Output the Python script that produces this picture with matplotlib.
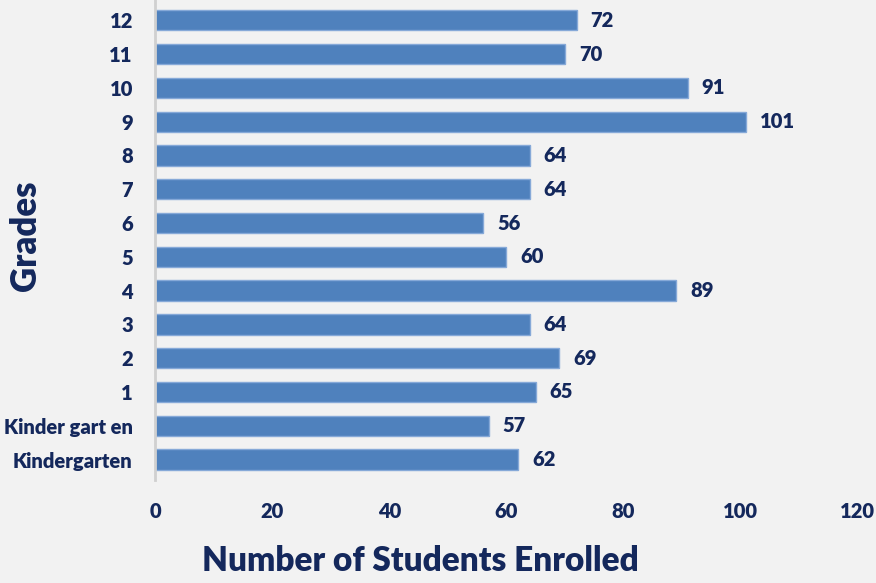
import matplotlib.pyplot as plt

grades = ["Kindergarten", "Kinder gart en", "1", "2", "3", "4", "5", "6",
          "7", "8", "9", "10", "11", "12"]
enrolled = [62, 57, 65, 69, 64, 89, 60, 56, 64, 64, 101, 91, 70, 72]
xticks = [0, 20, 40, 60, 80, 100, 120]

navy = "#14285c"
bg = "#f2f2f2"
plt.rcParams["font.family"] = ["Lato", "DejaVu Sans"]
plt.rcParams["font.weight"] = "heavy"

fig = plt.figure(figsize=(8.76, 5.83), dpi=100, facecolor=bg)
ax = fig.add_axes([0.177, 0.177, 0.802, 0.823], facecolor=bg)

pos = range(len(grades))
bars = ax.barh(pos, enrolled, height=0.6, color="#4f81bd",
               edgecolor="#86a9d8", linewidth=1)
for y, v in zip(pos, enrolled):
    ax.text(v + 2.4, y, str(v), va="center", ha="left",
            fontsize=14.5, fontweight="heavy", color=navy)

ax.set_xlim(0, 120)
ax.set_ylim(-0.6, len(grades) - 0.4)
ax.set_yticks(list(pos))
ax.set_yticklabels(grades)
ax.set_xticks(xticks)
ax.tick_params(axis="both", length=0, labelsize=14.5, labelcolor=navy)
ax.tick_params(axis="y", pad=16)
ax.tick_params(axis="x", pad=16)
for s in ["top", "right", "bottom"]:
    ax.spines[s].set_visible(False)
ax.spines["left"].set_color("#d0d0d0")
ax.spines["left"].set_linewidth(2)

ax.set_xlabel("Number of Students Enrolled", fontsize=24,
              fontweight="heavy", color=navy)
ax.xaxis.set_label_coords(0.378, -0.135)
ax.set_ylabel("Grades", fontsize=25, fontweight="heavy", color=navy)
ax.yaxis.set_label_coords(-0.161, 0.508)

fig.savefig("out.png", dpi=100, facecolor=bg)
